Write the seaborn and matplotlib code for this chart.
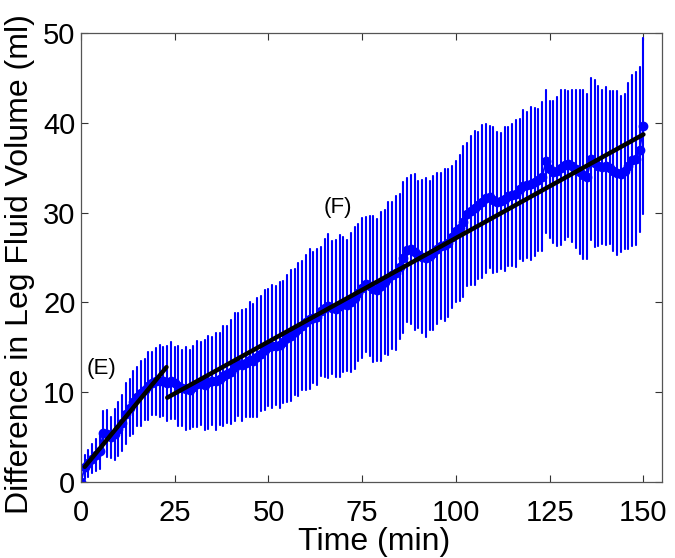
import numpy as np
import pandas as pd
import seaborn as sns
import matplotlib
matplotlib.use("Agg")
import matplotlib.pyplot as plt

# time points (min), one every minute
time_min = list(range(0, 151))

mean_ml = [
    0.0, 1.7, 2.1, 2.6, 3.0, 3.5, 5.5, 5.4, 5.0, 5.3,
    5.9, 6.6, 7.6, 8.3, 8.9, 9.5, 9.9, 10.3, 10.7, 11.0,
    11.2, 11.3, 11.2, 11.0, 11.3, 11.0, 10.7, 10.5, 10.4, 10.3,
    10.6, 10.9, 11.0, 10.8, 11.1, 11.3, 11.2, 11.5, 11.8, 12.0,
    12.3, 12.8, 13.1, 13.0, 13.3, 13.6, 13.5, 13.9, 14.3, 14.7,
    15.0, 15.1, 15.2, 15.3, 15.6, 16.0, 16.3, 16.7, 17.0, 17.4,
    17.8, 18.2, 18.3, 18.4, 19.0, 19.4, 19.6, 19.4, 19.3, 19.6,
    19.8, 19.7, 20.0, 20.5, 21.1, 21.6, 22.0, 21.8, 21.5, 21.4,
    21.8, 22.3, 22.7, 23.0, 23.3, 24.0, 25.0, 25.8, 25.9, 25.6,
    25.3, 25.1, 25.0, 25.2, 25.5, 26.0, 26.3, 26.4, 26.6, 27.3,
    27.9, 28.3, 29.0, 29.8, 30.2, 30.5, 30.8, 31.2, 31.6, 31.7,
    31.4, 31.2, 31.3, 31.5, 31.8, 32.0, 32.1, 32.6, 33.0, 33.1,
    33.2, 33.4, 33.6, 34.0, 35.7, 34.8, 34.5, 34.6, 35.0, 35.3,
    35.4, 35.2, 34.9, 34.5, 34.2, 34.0, 36.0, 35.5, 35.2, 35.1,
    35.2, 35.0, 34.6, 34.4, 34.3, 34.6, 35.2, 35.8, 36.0, 37.0,
    39.6,
]

err_ml = [
    0.0, 1.3, 1.5, 1.6, 1.8, 2.0, 2.4, 2.6, 2.3, 2.8,
    3.0, 3.1, 3.4, 3.2, 3.5, 3.3, 3.6, 3.4, 3.8, 3.5,
    3.7, 4.0, 3.8, 4.2, 4.3, 4.0, 4.4, 4.2, 4.6, 4.4,
    4.5, 4.8, 4.6, 5.0, 5.2, 4.9, 5.4, 5.1, 5.6, 5.4,
    5.8, 6.0, 5.7, 6.2, 6.0, 6.4, 6.3, 6.6, 6.4, 6.7,
    6.5, 6.8, 6.6, 7.0, 6.8, 7.1, 7.3, 7.0, 7.4, 7.2,
    7.5, 7.8, 7.3, 7.6, 7.2, 7.7, 8.0, 7.4, 7.6, 7.9,
    7.5, 7.3, 7.7, 7.9, 7.6, 7.8, 7.5, 7.8, 8.1, 7.9,
    8.3, 8.0, 8.5, 8.2, 8.6, 8.1, 8.4, 8.0, 8.3, 8.7,
    8.2, 8.5, 8.8, 8.3, 8.6, 8.4, 8.1, 8.5, 8.2, 7.9,
    7.8, 8.1, 8.4, 8.0, 8.3, 8.6, 8.2, 8.5, 8.3, 7.9,
    8.1, 7.8, 7.6, 8.0, 7.7, 7.9, 8.2, 7.8, 8.4, 8.1,
    8.5, 8.2, 7.9, 8.3, 8.0, 7.6, 7.9, 8.3, 8.6, 8.4,
    8.1, 8.5, 8.8, 9.1, 9.4, 9.2, 9.0, 9.3, 8.9, 8.6,
    8.8, 8.5, 8.9, 9.1, 8.7, 8.6, 9.2, 9.5, 9.6, 9.2,
    9.8,
]

# linear fits (E) early phase and (F) late phase, end points
fit_e_time = [1.0, 22.8]
fit_e_value = [1.7, 12.8]
fit_f_time = [23.0, 150.0]
fit_f_value = [9.4, 38.7]

df = pd.DataFrame({"Time": time_min, "Mean": mean_ml, "Err": err_ml})
df_e = pd.DataFrame({"Time": fit_e_time, "Value": fit_e_value})
df_f = pd.DataFrame({"Time": fit_f_time, "Value": fit_f_value})

sns.set_theme(style="ticks")
plt.rcParams["font.family"] = ["Liberation Sans", "DejaVu Sans"]
plt.rcParams["text.color"] = "black"
plt.rcParams["axes.labelcolor"] = "black"
plt.rcParams["xtick.labelcolor"] = "black"
plt.rcParams["ytick.labelcolor"] = "black"

fig = plt.figure(figsize=(6.75, 5.58), dpi=100)
ax = fig.add_axes([0.12, 0.136, 0.861, 0.805])

ax.errorbar(df["Time"], df["Mean"], yerr=df["Err"], fmt="o-", color="#0000ff",
            ms=6, lw=1.3, elinewidth=1.5, capsize=0.8, capthick=1.2, zorder=2)

sns.lineplot(data=df_e, x="Time", y="Value", color="black", lw=3.2, ax=ax, zorder=5)
sns.lineplot(data=df_f, x="Time", y="Value", color="black", lw=3.2, ax=ax, zorder=5)

ax.text(5.5, 12.6, "(E)", fontsize=16, ha="center", va="center")
ax.text(68.5, 30.6, "(F)", fontsize=16, ha="center", va="center")

ax.set_xlim(0, 155)
ax.set_ylim(0, 50)
ax.set_xticks([0, 25, 50, 75, 100, 125, 150])
ax.set_yticks([0, 10, 20, 30, 40, 50])
ax.tick_params(direction="in", length=5, width=0.8, color="#333333",
               top=True, right=True, labelsize=21)
ax.tick_params(axis="x", pad=12)
ax.tick_params(axis="y", pad=4)
for s in ax.spines.values():
    s.set_color("#555555")
    s.set_linewidth(0.9)

ax.set_xlabel("Time (min)", fontsize=23)
ax.set_ylabel("Difference in Leg Fluid Volume (ml)", fontsize=23)
ax.yaxis.set_label_coords(-0.08, 0.485)
ax.xaxis.set_label_coords(0.505, -0.1)

fig.savefig("out.png", dpi=100)
